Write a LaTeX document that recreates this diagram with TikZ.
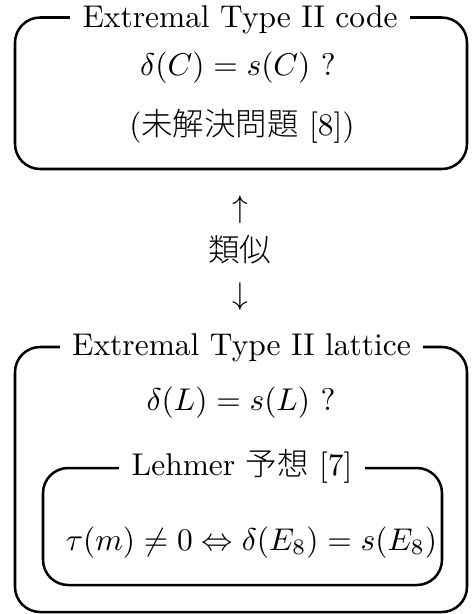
\documentclass[tikz,border=0pt]{standalone}
\usepackage{fontspec}
\newfontfamily\cjk{Noto Sans CJK JP Light}
\begin{document}
\begin{tikzpicture}[x=0.318pt,y=-0.318pt,
  frame/.style={draw,line width=0.8pt,rounded corners=8pt},
  ttl/.style={fill=white,inner xsep=4pt,inner ysep=1pt,anchor=base},
  txt/.style={anchor=base,inner sep=0pt}]
\useasboundingbox (0,0) rectangle (472,614);
% top box
\draw[frame] (15,17.5) rectangle (467,169);
\node[ttl] (t1) at (240,27) {Extremal Type II code};
\node[txt] (c1) at (238,75) {$\delta(C) = s(C)$ ?};
\node[txt] (c2) at (242,135) {({\cjk 未解決問題} [8])};
% middle
\node[inner sep=0pt] (up) at (240,210) {$\uparrow$};
\node[inner sep=0pt] (sim) at (240,250) {\cjk 類似};
\node[inner sep=0pt] (down) at (240,297) {$\downarrow$};
% lower box
\draw[frame] (15,347) rectangle (467,612);
\node[ttl] (t2) at (241.5,355.5) {Extremal Type II lattice};
\node[txt] (l1) at (241,410) {$\delta(L) = s(L)$ ?};
% inner box
\draw[frame] (43,468) rectangle (442,585);
\node[ttl] (t3) at (242,475.5) {Lehmer {\cjk 予想} [7]};
\node[txt] (l2) at (251.5,550) {$\tau(m)\neq 0 \Leftrightarrow \delta(E_8) = s(E_8)$};
\end{tikzpicture}
\end{document}
